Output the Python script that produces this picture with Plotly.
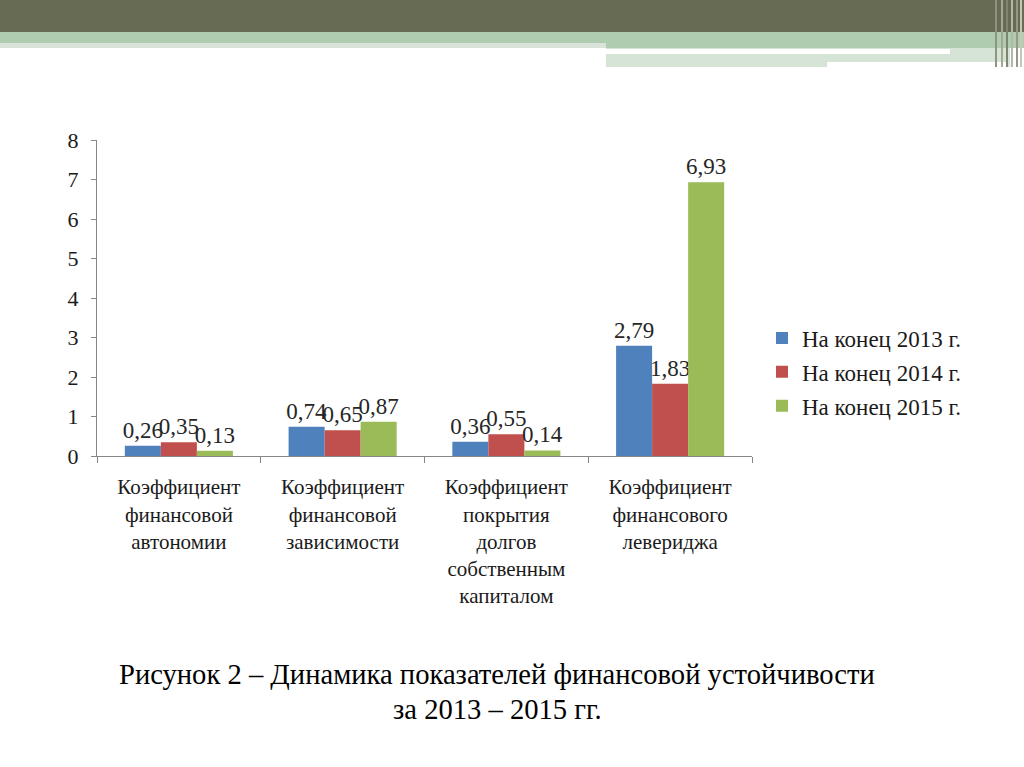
import plotly.graph_objects as go

categories = [
    "Коэффициент<br>финансовой<br>автономии",
    "Коэффициент<br>финансовой<br>зависимости",
    "Коэффициент<br>покрытия<br>долгов<br>собственным<br>капиталом",
    "Коэффициент<br>финансового<br>левериджа",
]
series_names = ["На конец 2013 г.", "На конец 2014 г.", "На конец 2015 г."]
values_2013 = [0.26, 0.74, 0.36, 2.79]
values_2014 = [0.35, 0.65, 0.55, 1.83]
values_2015 = [0.13, 0.87, 0.14, 6.93]
colors = ["#4F81BD", "#C0504D", "#9BBB59"]
y_ticks = [0, 1, 2, 3, 4, 5, 6, 7, 8]
caption = ["Рисунок 2 – Динамика показателей финансовой устойчивости", "за 2013 – 2015 гг."]

FONT = "Liberation Serif, Times New Roman, DejaVu Serif, serif"
W, H = 1024, 767
L, R, T, B = 97, 752, 140, 456  # plot area pixels


def px(x):
    return (x - L) / (R - L)


def py(y):
    return (B - y) / (B - T)


fig = go.Figure()
for i, (name, vals) in enumerate(zip(series_names, [values_2013, values_2014, values_2015])):
    fig.add_trace(go.Bar(
        x=categories, y=vals, name=name,
        marker=dict(color=colors[i], line=dict(width=0)),
        text=[f"{v:.2f}".replace(".", ",") for v in vals],
        textposition="outside",
        textfont=dict(family=FONT, size=23, color="#262626"),
        constraintext="none",
        cliponaxis=False,
        legendgroup=f"g{i}",
    ))

shapes = []


def rect(x0, y0, x1, y1, color):
    shapes.append(dict(type="rect", xref="paper", yref="paper",
                       x0=px(x0), x1=px(x1), y0=py(y0), y1=py(y1),
                       fillcolor=color, line=dict(width=0), layer="below"))


# slide header decoration
rect(0, 0, 1024, 32, "#676B53")
rect(0, 32, 1024, 43, "#B0CCB0")
rect(0, 43, 606, 48, "#D9E3DA")
rect(606, 43, 1024, 48, "#B0CCB0")
rect(606, 48, 1010, 67, "#D6E4D6")
rect(606, 49, 950, 54, "#FFFFFF")
rect(827, 62, 1007, 67, "#FFFFFF")
for xv, c in [(995, "#8F9480"), (1001, "#A3A894"), (1006, "#80856E"),
              (1011, "#B3B8A6"), (1016, "#959A84"), (1020, "#C4C8B8")]:
    rect(xv, 0, xv + 2, 67, c)

annotations = [
    dict(text=caption[0], x=px(497), y=py(674), xref="paper", yref="paper",
         xanchor="center", yanchor="middle",
         showarrow=False, font=dict(family=FONT, size=28.6, color="#000000")),
    dict(text=caption[1], x=px(497), y=py(709), xref="paper", yref="paper",
         xanchor="center", yanchor="middle",
         showarrow=False, font=dict(family=FONT, size=28.6, color="#000000")),
]

fig.update_layout(
    width=W, height=H,
    margin=dict(l=L, r=W - R, t=T, b=H - B, pad=0),
    paper_bgcolor="white", plot_bgcolor="white",
    barmode="group", bargap=0.34, bargroupgap=0,
    font=dict(family=FONT, size=22, color="#1a1a1a"),
    showlegend=True,
    legend=dict(x=px(762), y=py(372), xanchor="left", yanchor="middle",
                font=dict(family=FONT, size=23, color="#1a1a1a"),
                tracegroupgap=1, itemwidth=30, bgcolor="rgba(0,0,0,0)"),
    shapes=shapes,
    annotations=annotations,
)
fig.update_yaxes(range=[0, 8], tickvals=y_ticks, showgrid=False, zeroline=False,
                 showline=True, linecolor="#868686", linewidth=1,
                 ticks="outside", ticklen=5, tickcolor="#868686",
                 tickfont=dict(family=FONT, size=22, color="#1a1a1a"),
                 ticklabelstandoff=8, fixedrange=True)
fig.update_xaxes(showgrid=False, showline=True, linecolor="#868686", linewidth=1,
                 ticks="outside", ticklen=6, tickcolor="#868686", tickson="boundaries",
                 tickfont=dict(family=FONT, size=21, color="#1a1a1a"),
                 ticklabelstandoff=12, tickangle=0, fixedrange=True)

fig.write_html(
    "out.html",
    config={"displayModeBar": False},
    post_script="document.body.style.margin='0';document.body.style.padding='0';"
                "document.body.style.overflow='hidden';",
)
